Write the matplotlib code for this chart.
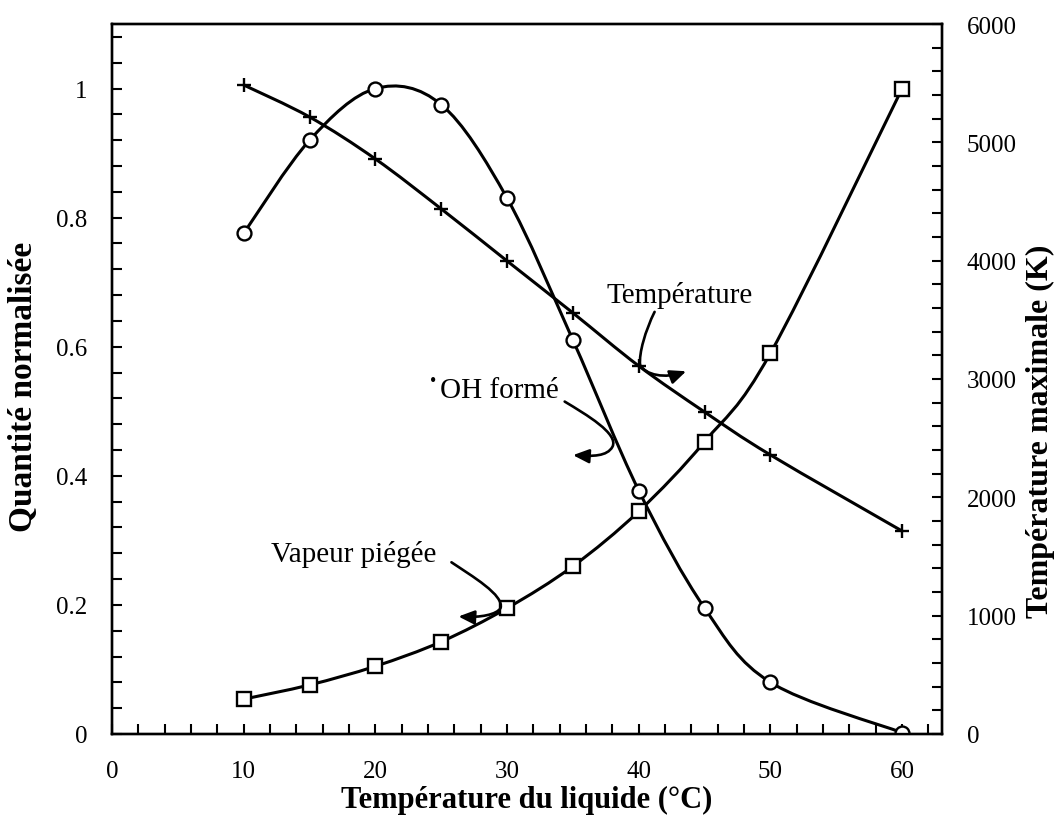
import matplotlib
matplotlib.use("Agg")
import matplotlib.pyplot as plt
from matplotlib.path import Path
from matplotlib.patches import PathPatch, FancyArrowPatch
from matplotlib.ticker import MultipleLocator

# data
temp_liquide = [10, 15, 20, 25, 30, 35, 40, 45, 50, 60]
oh_forme = [0.776, 0.92, 1.0, 0.975, 0.83, 0.61, 0.377, 0.195, 0.08, 0.002]
vapeur_piegee = [0.054, 0.076, 0.105, 0.143, 0.195, 0.26, 0.345, 0.453, 0.59, 1.0]
temp_max = [5484, 5214, 4859, 4437, 3997, 3558, 3110, 2721, 2358, 1715]

FONT = "Liberation Serif"
plt.rcParams["font.family"] = [FONT, "DejaVu Serif"]


def smooth_path(xs, ys):
    """Excel-like smoothed line through the points as cubic Beziers."""
    pts = list(zip(xs, ys))
    n = len(pts)
    verts = [pts[0]]
    codes = [Path.MOVETO]
    for i in range(n - 1):
        p0 = pts[i - 1] if i > 0 else pts[i]
        p1 = pts[i]
        p2 = pts[i + 1]
        p3 = pts[i + 2] if i + 2 < n else pts[i + 1]
        c1 = (p1[0] + (p2[0] - p0[0]) / 6, p1[1] + (p2[1] - p0[1]) / 6)
        c2 = (p2[0] - (p3[0] - p1[0]) / 6, p2[1] - (p3[1] - p1[1]) / 6)
        verts += [c1, c2, p2]
        codes += [Path.CURVE4] * 3
    return Path(verts, codes)


fig = plt.figure(figsize=(10.58, 8.2), dpi=100)
ax = fig.add_axes([0.106, 0.1037, 0.784, 0.8658])
ax2 = ax.twinx()

LW = 2.2
for ys in (oh_forme, vapeur_piegee):
    ax.add_patch(PathPatch(smooth_path(temp_liquide, ys), fill=False, lw=LW,
                           edgecolor="black", zorder=2))
ax2.add_patch(PathPatch(smooth_path(temp_liquide, temp_max), fill=False, lw=LW,
                        edgecolor="black", zorder=2))

ax.plot(temp_liquide, oh_forme, ls="none", marker="o", ms=10, mfc="white",
        mec="black", mew=1.7, zorder=3)
ax.plot(temp_liquide, vapeur_piegee, ls="none", marker="s", ms=9.5, mfc="white",
        mec="black", mew=1.7, zorder=3)
ax2.plot(temp_liquide, temp_max, ls="none", marker="+", ms=10, mec="black",
         mew=1.7, zorder=3)

ax.set_xlim(0, 63)
ax.set_ylim(0, 1.1)
ax2.set_ylim(0, 6000)

ax.xaxis.set_major_locator(MultipleLocator(10))
ax.xaxis.set_minor_locator(MultipleLocator(2))
ax.yaxis.set_minor_locator(MultipleLocator(0.04))
ax2.yaxis.set_major_locator(MultipleLocator(1000))
ax2.yaxis.set_minor_locator(MultipleLocator(200))
ax.set_yticks([0, 0.2, 0.4, 0.6, 0.8, 1.0])
ax.set_yticklabels(["0", "0.2", "0.4", "0.6", "0.8", "1"])

for a in (ax, ax2):
    a.tick_params(which="both", direction="in", length=7, width=1.5,
                  labelsize=18, pad=18)
    for s in a.spines.values():
        s.set_linewidth(1.7)
ax.tick_params(which="both", top=False, right=False)
ax.tick_params(axis="x", pad=19)
ax2.tick_params(which="both", left=False, top=False, bottom=False)

ax.set_xlabel("Température du liquide (°C)", fontsize=22, fontweight="bold",
              labelpad=2)
ax.set_ylabel("Quantité normalisée", fontsize=24, fontweight="bold")
ax2.set_ylabel("Température maximale (K)", fontsize=23, fontweight="bold")
ax.yaxis.set_label_coords(-0.088, 0.49)
ax2.yaxis.set_label_coords(1.102, 0.428)

# annotations with curved arrows
ax.text(37.55, 0.670, "Température", fontsize=21, ha="left", va="baseline")
ax.text(24.9, 0.5225, "OH formé", fontsize=21, ha="left", va="baseline")
ax.text(24.4, 0.547, "•", fontsize=13, ha="center", va="center")
ax.text(12.1, 0.268, "Vapeur piégée", fontsize=21, ha="left", va="baseline")

arrows = [
    [(41.2, 0.654), (40.5, 0.625), (40.0, 0.59), (40.1, 0.572),
     (40.5, 0.556), (42.0, 0.55), (43.6, 0.562)],
    [(34.37, 0.515), (36.0, 0.495), (38.5, 0.465), (38.0, 0.445),
     (37.6, 0.43), (36.5, 0.43), (35.0, 0.432)],
    [(25.77, 0.266), (27.3, 0.245), (29.8, 0.215), (29.5, 0.195),
     (29.2, 0.185), (28.0, 0.18), (26.3, 0.182)],
]
codes = [Path.MOVETO] + [Path.CURVE4] * 6
for verts in arrows:
    arr = FancyArrowPatch(path=Path(verts, codes),
                          arrowstyle="-|>,head_length=0.8,head_width=0.35",
                          mutation_scale=12, lw=1.9, color="black",
                          transform=ax.transData, zorder=4)
    ax.add_patch(arr)

fig.savefig("out.png", dpi=100, facecolor="white")
